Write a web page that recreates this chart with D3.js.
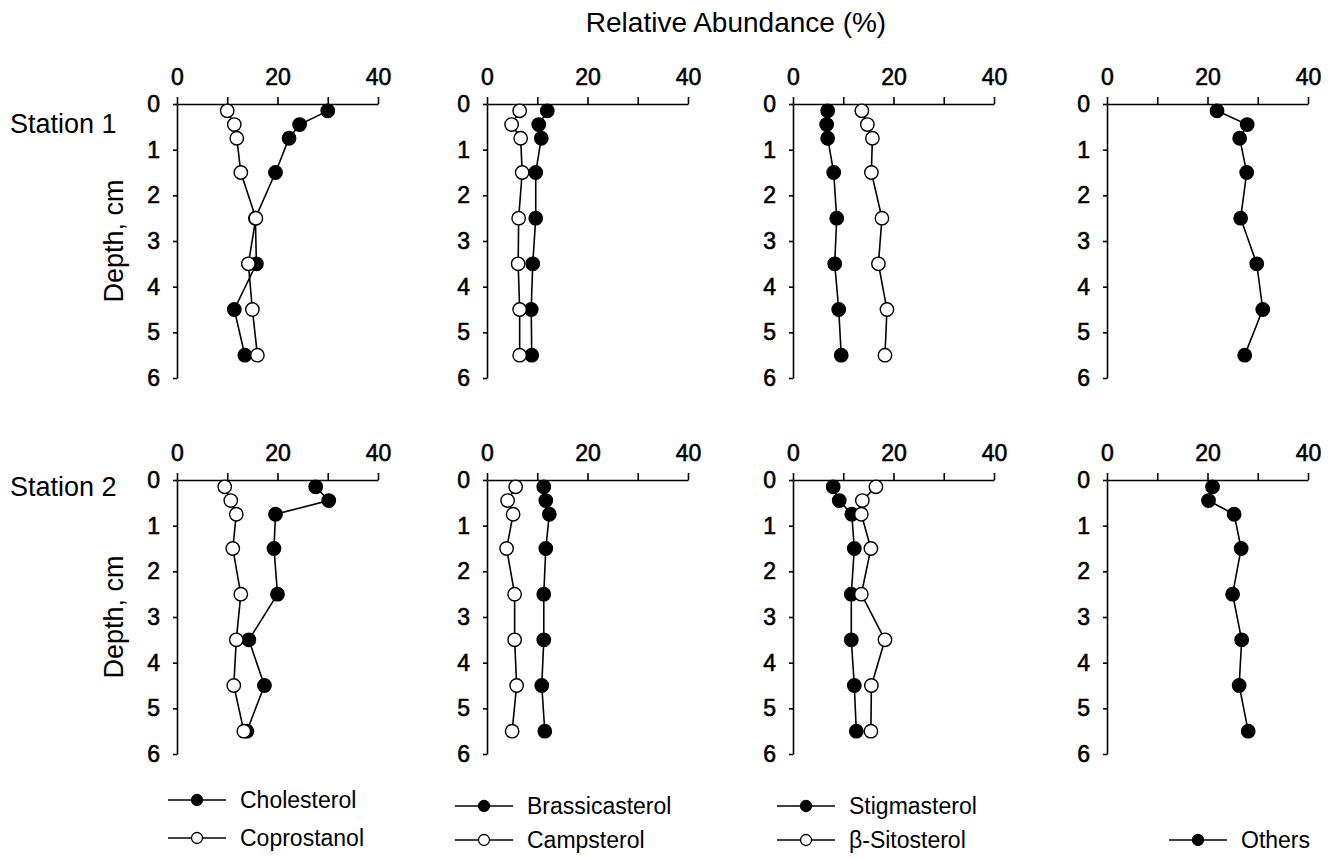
<!DOCTYPE html>
<html>
<head>
<meta charset="utf-8">
<script src="https://cdn.jsdelivr.net/npm/d3@7"></script>
<style>
  html, body { margin: 0; padding: 0; background: #fff; }
  svg { display: block; }
  text { font-family: "Liberation Sans", Arial, Helvetica, sans-serif; fill: #000; }
</style>
</head>
<body>
<svg id="chart" width="1335" height="859"></svg>
<script>
// Sampling depths (cm) shared by every profile
const depths = [0.15, 0.45, 0.75, 1.5, 2.5, 3.5, 4.5, 5.5];

// Relative abundance (%) of each sterol, Station 1
const s1Cholesterol    = [30.0, 24.4, 22.3, 19.6, 15.6, 15.8, 11.4, 13.5];
const s1Coprostanol    = [10.0, 11.4, 11.9, 12.7, 15.7, 14.2, 15.0, 16.0];
const s1Brassicasterol = [12.0, 10.3, 10.8, 9.7, 9.7, 9.1, 8.8, 8.9];
const s1Campsterol     = [6.5, 4.9, 6.7, 7.0, 6.3, 6.2, 6.5, 6.5];
const s1Stigmasterol   = [6.9, 6.7, 6.9, 8.1, 8.7, 8.3, 9.1, 9.6];
const s1Sitosterol     = [13.7, 14.8, 15.8, 15.6, 17.7, 17.0, 18.7, 18.3];
const s1Others         = [21.9, 27.9, 26.4, 27.8, 26.6, 29.8, 31.0, 27.4];

// Relative abundance (%) of each sterol, Station 2
const s2Cholesterol    = [27.6, 30.2, 19.6, 19.3, 20.0, 14.3, 17.4, 13.9];
const s2Coprostanol    = [9.5, 10.7, 11.8, 11.1, 12.7, 11.8, 11.3, 13.3];
const s2Brassicasterol = [11.3, 11.7, 12.4, 11.7, 11.3, 11.3, 10.9, 11.5];
const s2Campsterol     = [5.7, 4.1, 5.2, 3.9, 5.5, 5.5, 5.9, 5.0];
const s2Stigmasterol   = [8.0, 9.2, 11.7, 12.2, 11.6, 11.6, 12.2, 12.6];
const s2Sitosterol     = [16.5, 13.8, 13.6, 15.5, 13.6, 18.3, 15.6, 15.5];
const s2Others         = [21.0, 20.2, 25.3, 26.7, 25.0, 26.8, 26.3, 28.1];

// Axis ticks
const xTicks = [0, 10, 20, 30, 40];
const xTickLabels = [0, 20, 40];
const yTicks = [0, 1, 2, 3, 4, 5, 6];

const stationNames = ["Station 1", "Station 2"];

// One column per sterol group: [filled series, open series]
const groups = [
  [{ name: "Cholesterol", s1: s1Cholesterol, s2: s2Cholesterol, filled: true },
   { name: "Coprostanol", s1: s1Coprostanol, s2: s2Coprostanol, filled: false }],
  [{ name: "Brassicasterol", s1: s1Brassicasterol, s2: s2Brassicasterol, filled: true },
   { name: "Campsterol", s1: s1Campsterol, s2: s2Campsterol, filled: false }],
  [{ name: "Stigmasterol", s1: s1Stigmasterol, s2: s2Stigmasterol, filled: true },
   { name: "\u03B2-Sitosterol", s1: s1Sitosterol, s2: s2Sitosterol, filled: false }],
  [{ name: "Others", s1: s1Others, s2: s2Others, filled: true }]
];

// ---- layout ----
const svg = d3.select("#chart");
const colLeft = [177, 487, 793, 1107];
const rowTop = [104, 480];
const panelW = 201;
const panelH = 274;

const x = d3.scaleLinear().domain([0, 40]).range([0, panelW]);
const y = d3.scaleLinear().domain([0, 6]).range([0, panelH]);

svg.append("text")
  .attr("x", 736).attr("y", 32)
  .attr("text-anchor", "middle")
  .style("font-size", "28px")
  .text("Relative Abundance (%)");

const line = d3.line().x(d => x(d.v)).y(d => y(d.depth));

stationNames.forEach((station, r) => {
  const key = r === 0 ? "s1" : "s2";

  svg.append("text")
    .attr("x", 10).attr("y", r === 0 ? 133 : 496)
    .style("font-size", "27px")
    .text(station);

  svg.append("text")
    .attr("transform", `translate(123,${rowTop[r] + panelH / 2}) rotate(-90)`)
    .attr("text-anchor", "middle")
    .style("font-size", "27px")
    .text("Depth, cm");

  groups.forEach((group, c) => {
    const g = svg.append("g").attr("transform", `translate(${colLeft[c]},${rowTop[r]})`);

    const xAxis = d3.axisTop(x)
      .tickValues(xTicks)
      .tickSizeInner(7).tickSizeOuter(0).tickPadding(12)
      .tickFormat(d => xTickLabels.includes(d) ? d : "");
    const yAxis = d3.axisLeft(y)
      .tickValues(yTicks)
      .tickSizeInner(4).tickSizeOuter(0).tickPadding(13)
      .tickFormat(d3.format("d"));

    [g.append("g").call(xAxis), g.append("g").call(yAxis)].forEach(ax => {
      ax.selectAll("path, line").attr("stroke", "#000").attr("stroke-width", 1.6);
      ax.selectAll("text")
        .style("font-size", "23px")
        .attr("fill", "#000")
        .attr("stroke", "#000")
        .attr("stroke-width", 0.6);
    });

    group.forEach(series => {
      const pts = depths.map((depth, i) => ({ depth, v: series[key][i] }));
      g.append("path")
        .datum(pts)
        .attr("d", line)
        .attr("fill", "none")
        .attr("stroke", "#000")
        .attr("stroke-width", 1.6);
      g.selectAll(null)
        .data(pts)
        .enter().append("circle")
        .attr("cx", d => x(d.v))
        .attr("cy", d => y(d.depth))
        .attr("r", 6.7)
        .attr("fill", series.filled ? "#000" : "#fff")
        .attr("stroke", "#000")
        .attr("stroke-width", 1.4);
    });
  });
});

// ---- legends ----
const legendCols = [
  { textX: 240, rows: [800, 838] },
  { textX: 527, rows: [806, 840] },
  { textX: 849, rows: [806, 840] },
  { textX: 1241, rows: [840] }
];

groups.forEach((group, c) => {
  const lc = legendCols[c];
  group.forEach((series, i) => {
    const yy = lc.rows[i];
    const x1 = lc.textX - 72, x2 = lc.textX - 14;
    const lg = svg.append("g");
    lg.append("line")
      .attr("x1", x1).attr("x2", x2).attr("y1", yy).attr("y2", yy)
      .attr("stroke", "#000").attr("stroke-width", 1.6);
    lg.append("circle")
      .attr("cx", (x1 + x2) / 2).attr("cy", yy).attr("r", 5.5)
      .attr("fill", series.filled ? "#000" : "#fff")
      .attr("stroke", "#000").attr("stroke-width", 1.3);
    lg.append("text")
      .attr("x", lc.textX).attr("y", yy)
      .attr("dy", "0.35em")
      .style("font-size", "23px")
      .text(series.name);
  });
});
</script>
</body>
</html>
